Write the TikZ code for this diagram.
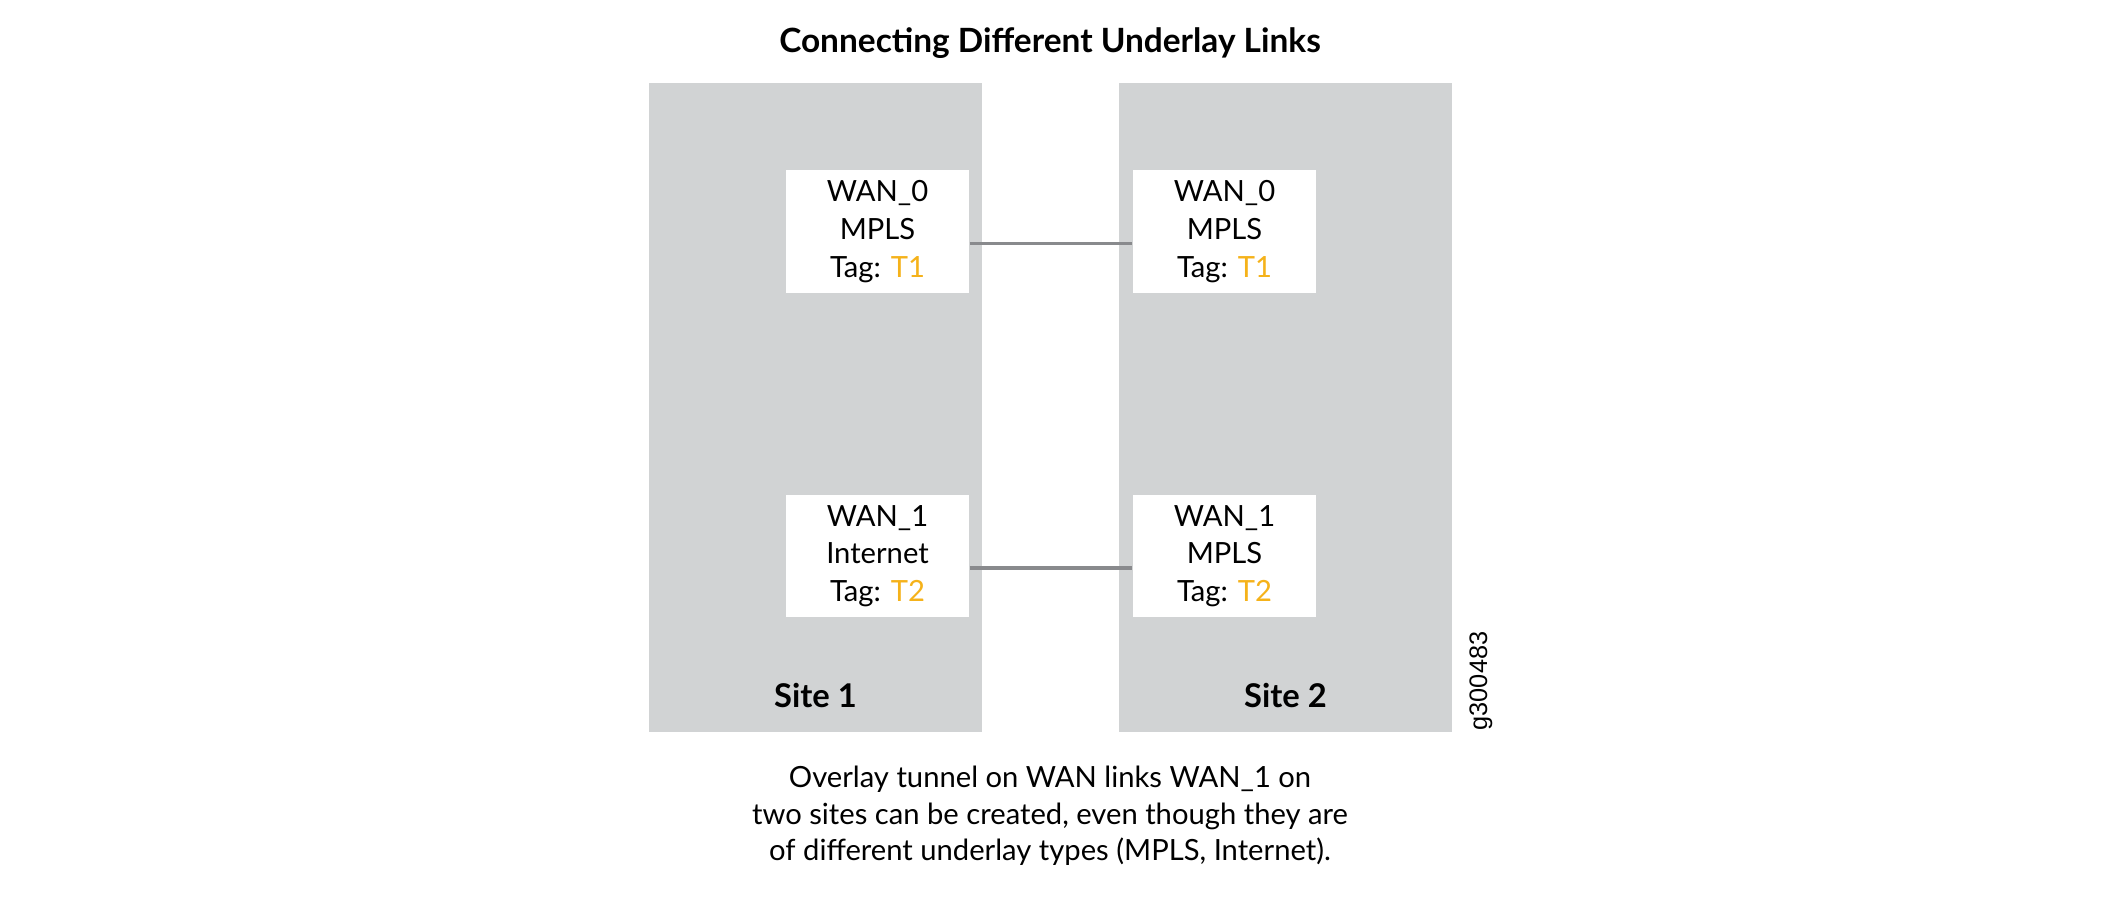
\documentclass[tikz,border=0pt]{standalone}
\usepackage{fontspec}
\setmainfont{Lato}
\newfontfamily\figidfont{Liberation Sans}
\usetikzlibrary{positioning}
\definecolor{sitegray}{HTML}{D1D3D4}
\definecolor{linkgray}{HTML}{898A8D}
\definecolor{tagorange}{HTML}{F5B21A}
\newcommand{\tagT}[1]{Tag: \textcolor{tagorange}{#1}}

\begin{document}
\begin{tikzpicture}[x=0.01cm, y=0.01cm,
  wanbox/.style={fill=white, minimum width=1.83cm, minimum height=1.22cm, inner sep=0pt, align=center, font=\fontsize{8.3}{10.7}\selectfont},
  heading/.style={font=\fontsize{9.3}{11}\selectfont\bfseries, anchor=base},
  link/.style={draw=linkgray, line width=1.1pt}]
\useasboundingbox (0,0) rectangle (2101,-901);
\draw (1050,-53) node [heading, font=\fontsize{9.5}{11}\selectfont\bfseries] (title) {Connecting Different Underlay Links};
% sites
\fill [sitegray] (649,-83) rectangle (982,-732);
\fill [sitegray] (1119,-83) rectangle (1452,-732);
\draw (815.5,-708) node [heading] (siteOne) {Site 1};
\draw (1285.5,-708) node [heading] (siteTwo) {Site 2};
% WAN links
\draw (877.5,-231.5) node [wanbox] (oneWanZero) {WAN\_0\\MPLS\\\tagT{T1}};
\draw (1224.5,-231.5) node [wanbox] (twoWanZero) {WAN\_0\\MPLS\\\tagT{T1}};
\draw (877.5,-556) node [wanbox] (oneWanOne) {WAN\_1\\Internet\\\tagT{T2}};
\draw (1224.5,-556) node [wanbox] (twoWanOne) {WAN\_1\\MPLS\\\tagT{T2}};
\draw [link] ([yshift=-0.12cm]oneWanZero.east) -- ([yshift=-0.12cm]twoWanZero.west);
\draw [link] ([yshift=-0.12cm]oneWanOne.east) -- ([yshift=-0.12cm]twoWanOne.west);
\draw (1481,-681) node [rotate=90, font=\figidfont\fontsize{7.2}{8}\selectfont] (figId) {g300483};
\draw (1050,-816) node [align=center, font=\fontsize{8.3}{10.4}\selectfont] (caption) {Overlay tunnel on WAN links WAN\_1 on\\two sites can be created, even though they are\\of different underlay types (MPLS, Internet).};
\end{tikzpicture}
\end{document}
